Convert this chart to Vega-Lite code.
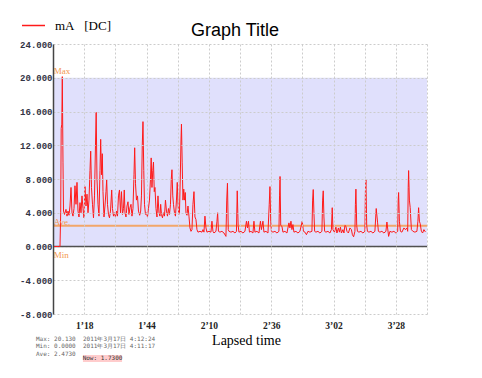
{
"$schema":"https://vega.github.io/schema/vega-lite/v6.json",
"width":374,"height":270,
"autosize":"none",
"padding":{"left":53,"top":44,"right":55,"bottom":64},
"background":"white",
"view":{"stroke":null},
"config":{"axis":{"labelOverlap":false,"labelFlush":false}},
"title":{"text":"Graph Title","font":"Liberation Sans","fontSize":18,"fontWeight":"normal","color":"#000","offset":-27,"dx":-5,"anchor":"middle"},
"layer":[
{"data":{"values":[{}]},"mark":{"type":"rect","color":"#e0e0fc"},"encoding":{
"x":{"datum":65,"type":"quantitative","scale":{"domain":[65,221],"nice":false,"zero":false},
 "axis":{"values":[65,78,91,104,117,130,143,156,169,182,195,208,221],"tickCount":50,"grid":true,"gridDash":[2,2],"gridColor":"#cccccc","domain":false,"ticks":false,"labelOverlap":false,"labelFlush":false,
 "labelExpr":"datum.value==78 ? '1\u201918' : datum.value==104 ? '1\u201944' : datum.value==130 ? '2\u201910' : datum.value==156 ? '2\u201936' : datum.value==182 ? '3\u201902' : datum.value==208 ? '3\u201928' : ''",
 "labelFont":"Liberation Serif","labelFontSize":9.5,"labelFontWeight":"bold","labelColor":"#222","labelPadding":6,
 "title":"Lapsed time","titleFont":"Liberation Serif","titleFontSize":14,"titleFontWeight":"normal","titleColor":"#000","titlePadding":4,"titleX":193,"zindex":1}},
"x2":{"datum":221},
"y":{"datum":0,"type":"quantitative","scale":{"domain":[-8,24],"nice":false,"zero":false},
 "axis":{"values":[-8,-4,0,4,8,12,16,20,24],"tickCount":50,"grid":true,"gridDash":[2,2],"gridColor":"#cccccc","domain":true,"domainColor":"#444","domainWidth":1.5,"ticks":false,"labelOverlap":false,
 "labelExpr":"(datum.value<0?'-':'')+format(abs(datum.value),'.3f')",
 "labelFont":"Liberation Mono","labelFontSize":9,"labelFontWeight":"bold","labelColor":"#333344","labelPadding":1,"title":null,"zindex":1}},
"y2":{"datum":20}}},
{"data":{"values":[{}]},"mark":{"type":"rule","color":"#f2a66a","strokeWidth":2},"encoding":{"x":{"datum":65,"type":"quantitative"},"x2":{"datum":221},"y":{"datum":2.473,"type":"quantitative"}}},
{"data":{"values":[{}]},"mark":{"type":"rule","color":"#505050","strokeWidth":1.5},"encoding":{"x":{"datum":65,"type":"quantitative"},"x2":{"datum":221},"y":{"datum":0,"type":"quantitative"}}},
{"data":{"values":[
{"t":65.00,"mA":0.0},{"t":66.25,"mA":0.0},{"t":67.29,"mA":0.0},{"t":67.92,"mA":0.0},{"t":68.21,"mA":4.0},{"t":68.42,"mA":14.0},{"t":68.67,"mA":14.5},{"t":68.88,"mA":20.13},{"t":69.17,"mA":10.0},{"t":69.38,"mA":4.2},
{"t":69.80,"mA":3.8},{"t":70.42,"mA":4.4},{"t":70.84,"mA":3.6},{"t":71.26,"mA":4.2},{"t":71.67,"mA":3.7},{"t":72.09,"mA":4.8},{"t":72.51,"mA":7.0},{"t":72.92,"mA":4.0},{"t":73.34,"mA":3.6},{"t":73.76,"mA":4.5},
{"t":74.17,"mA":7.2},{"t":74.59,"mA":5.0},{"t":75.01,"mA":7.6},{"t":75.43,"mA":4.2},{"t":75.84,"mA":3.5},{"t":76.26,"mA":5.2},{"t":76.68,"mA":4.0},{"t":77.09,"mA":6.0},{"t":77.51,"mA":4.5},{"t":77.93,"mA":3.4},
{"t":78.34,"mA":7.1},{"t":78.76,"mA":4.8},{"t":79.18,"mA":6.2},{"t":79.60,"mA":4.0},{"t":80.01,"mA":5.5},{"t":80.43,"mA":9.0},{"t":80.72,"mA":11.3},{"t":81.05,"mA":7.0},{"t":81.47,"mA":5.0},{"t":81.89,"mA":3.4},
{"t":82.31,"mA":6.0},{"t":82.72,"mA":12.0},{"t":83.01,"mA":15.9},{"t":83.35,"mA":8.0},{"t":83.77,"mA":5.0},{"t":84.18,"mA":3.6},{"t":84.60,"mA":9.0},{"t":84.89,"mA":12.7},{"t":85.22,"mA":8.5},{"t":85.56,"mA":11.0},
{"t":85.85,"mA":6.5},{"t":86.27,"mA":3.5},{"t":86.68,"mA":4.8},{"t":87.10,"mA":6.5},{"t":87.39,"mA":7.9},{"t":87.73,"mA":5.0},{"t":88.14,"mA":3.8},{"t":88.56,"mA":3.4},{"t":88.98,"mA":4.2},{"t":89.48,"mA":6.7},
{"t":89.81,"mA":4.5},{"t":90.23,"mA":3.6},{"t":90.65,"mA":4.0},{"t":91.06,"mA":3.5},{"t":91.48,"mA":4.2},{"t":91.90,"mA":3.6},{"t":92.31,"mA":6.0},{"t":92.73,"mA":6.7},{"t":93.15,"mA":4.0},{"t":93.56,"mA":6.5},
{"t":93.98,"mA":3.8},{"t":94.40,"mA":4.5},{"t":94.73,"mA":6.7},{"t":95.02,"mA":4.0},{"t":95.44,"mA":3.5},{"t":95.86,"mA":4.8},{"t":96.28,"mA":5.3},{"t":96.69,"mA":3.8},{"t":97.11,"mA":4.6},{"t":97.53,"mA":5.0},
{"t":97.94,"mA":3.6},{"t":98.36,"mA":4.5},{"t":98.78,"mA":8.5},{"t":99.07,"mA":11.7},{"t":99.40,"mA":7.5},{"t":99.82,"mA":5.5},{"t":100.24,"mA":6.0},{"t":100.65,"mA":4.2},{"t":101.15,"mA":3.7},{"t":101.57,"mA":4.2},
{"t":101.90,"mA":6.0},{"t":102.24,"mA":12.0},{"t":102.53,"mA":14.8},{"t":102.86,"mA":9.0},{"t":103.16,"mA":5.0},{"t":103.57,"mA":3.8},{"t":103.99,"mA":4.0},{"t":104.41,"mA":3.5},{"t":104.82,"mA":4.5},{"t":105.24,"mA":5.5},
{"t":105.66,"mA":8.0},{"t":105.95,"mA":10.5},{"t":106.28,"mA":7.0},{"t":106.62,"mA":9.0},{"t":106.91,"mA":10.0},{"t":107.24,"mA":6.5},{"t":107.53,"mA":7.0},{"t":107.95,"mA":4.5},{"t":108.37,"mA":3.5},{"t":108.79,"mA":6.0},
{"t":109.20,"mA":4.0},{"t":109.62,"mA":3.6},{"t":109.91,"mA":5.0},{"t":110.24,"mA":3.8},{"t":110.66,"mA":3.4},{"t":111.08,"mA":4.0},{"t":111.50,"mA":3.6},{"t":111.91,"mA":5.5},{"t":112.33,"mA":4.2},{"t":112.75,"mA":3.6},
{"t":113.16,"mA":4.5},{"t":113.58,"mA":3.8},{"t":114.00,"mA":5.0},{"t":114.33,"mA":8.0},{"t":114.62,"mA":9.1},{"t":114.96,"mA":6.0},{"t":115.25,"mA":5.0},{"t":115.67,"mA":4.0},{"t":116.08,"mA":3.6},{"t":116.50,"mA":5.5},
{"t":116.83,"mA":7.6},{"t":117.13,"mA":5.0},{"t":117.46,"mA":3.8},{"t":117.75,"mA":4.0},{"t":118.08,"mA":8.0},{"t":118.38,"mA":12.5},{"t":118.58,"mA":14.5},{"t":118.88,"mA":10.0},{"t":119.21,"mA":5.5},{"t":119.54,"mA":6.8},
{"t":119.84,"mA":5.5},{"t":120.17,"mA":6.4},{"t":120.46,"mA":4.0},{"t":120.88,"mA":3.7},{"t":121.30,"mA":4.8},{"t":121.71,"mA":3.6},{"t":122.13,"mA":2.2},{"t":122.55,"mA":1.8},{"t":122.96,"mA":2.0},{"t":123.38,"mA":5.0},
{"t":123.80,"mA":6.5},{"t":124.21,"mA":3.5},{"t":124.63,"mA":3.2},{"t":125.05,"mA":2.0},{"t":125.47,"mA":1.7},{"t":126.30,"mA":1.8},{"t":127.13,"mA":1.7},{"t":127.55,"mA":2.0},{"t":127.97,"mA":1.7},{"t":128.38,"mA":3.6},
{"t":128.80,"mA":2.2},{"t":129.22,"mA":1.7},{"t":130.05,"mA":1.8},{"t":130.89,"mA":1.7},{"t":131.30,"mA":3.0},{"t":131.72,"mA":1.8},{"t":132.14,"mA":1.6},{"t":132.97,"mA":1.8},{"t":133.39,"mA":3.0},{"t":133.68,"mA":4.0},
{"t":134.01,"mA":1.8},{"t":134.64,"mA":1.7},{"t":135.47,"mA":1.8},{"t":136.31,"mA":1.6},{"t":137.14,"mA":1.2},{"t":137.47,"mA":5.5},{"t":137.77,"mA":7.5},{"t":138.10,"mA":2.0},{"t":138.39,"mA":1.8},{"t":139.23,"mA":1.7},
{"t":140.06,"mA":1.8},{"t":140.89,"mA":1.6},{"t":141.52,"mA":1.8},{"t":141.85,"mA":6.6},{"t":142.23,"mA":2.5},{"t":142.56,"mA":1.7},{"t":143.40,"mA":1.8},{"t":144.23,"mA":1.6},{"t":145.06,"mA":1.8},{"t":145.69,"mA":3.0},
{"t":146.11,"mA":2.2},{"t":146.52,"mA":3.0},{"t":146.94,"mA":1.7},{"t":147.57,"mA":1.8},{"t":148.40,"mA":1.6},{"t":148.82,"mA":3.0},{"t":149.23,"mA":1.7},{"t":150.07,"mA":1.8},{"t":150.90,"mA":1.6},{"t":151.53,"mA":3.0},
{"t":151.94,"mA":2.0},{"t":152.57,"mA":3.0},{"t":152.99,"mA":1.7},{"t":153.82,"mA":1.8},{"t":154.66,"mA":1.6},{"t":155.20,"mA":5.0},{"t":155.49,"mA":7.1},{"t":155.82,"mA":3.0},{"t":156.11,"mA":1.8},{"t":156.74,"mA":1.7},
{"t":157.57,"mA":1.8},{"t":158.41,"mA":1.6},{"t":159.24,"mA":1.8},{"t":159.49,"mA":6.0},{"t":159.70,"mA":8.3},{"t":159.99,"mA":2.5},{"t":160.49,"mA":2.4},{"t":160.91,"mA":1.7},{"t":161.74,"mA":1.8},{"t":162.58,"mA":1.6},
{"t":163.41,"mA":2.8},{"t":163.83,"mA":2.2},{"t":164.25,"mA":3.0},{"t":164.66,"mA":2.0},{"t":165.08,"mA":2.6},{"t":165.50,"mA":1.7},{"t":166.33,"mA":1.8},{"t":167.17,"mA":1.6},{"t":168.00,"mA":1.8},{"t":168.96,"mA":3.0},
{"t":169.46,"mA":1.8},{"t":170.08,"mA":1.7},{"t":170.71,"mA":1.4},{"t":171.34,"mA":1.8},{"t":172.17,"mA":1.7},{"t":173.00,"mA":1.8},{"t":173.29,"mA":5.5},{"t":173.55,"mA":6.75},{"t":173.84,"mA":4.0},{"t":174.13,"mA":1.8},
{"t":174.67,"mA":1.7},{"t":175.51,"mA":1.8},{"t":176.34,"mA":1.6},{"t":177.17,"mA":1.8},{"t":177.46,"mA":5.5},{"t":177.72,"mA":6.6},{"t":178.01,"mA":3.5},{"t":178.30,"mA":1.8},{"t":178.84,"mA":1.7},{"t":179.68,"mA":1.8},
{"t":180.51,"mA":1.6},{"t":181.13,"mA":2.0},{"t":181.47,"mA":4.6},{"t":181.76,"mA":2.0},{"t":182.39,"mA":1.7},{"t":183.01,"mA":2.3},{"t":183.43,"mA":1.6},{"t":184.05,"mA":2.2},{"t":184.47,"mA":1.7},{"t":184.89,"mA":2.3},
{"t":185.30,"mA":1.6},{"t":185.93,"mA":2.0},{"t":186.35,"mA":1.6},{"t":186.76,"mA":2.5},{"t":187.18,"mA":2.4},{"t":187.60,"mA":1.8},{"t":188.22,"mA":1.6},{"t":188.85,"mA":2.2},{"t":189.47,"mA":2.0},{"t":189.89,"mA":1.4},
{"t":190.39,"mA":1.15},{"t":190.93,"mA":1.8},{"t":191.14,"mA":5.0},{"t":191.35,"mA":6.8},{"t":191.68,"mA":2.5},{"t":191.98,"mA":1.8},{"t":192.60,"mA":1.7},{"t":193.44,"mA":1.8},{"t":194.27,"mA":1.6},{"t":195.10,"mA":1.8},
{"t":195.31,"mA":6.5},{"t":195.52,"mA":7.9},{"t":195.85,"mA":2.5},{"t":196.15,"mA":1.8},{"t":196.77,"mA":1.7},{"t":197.61,"mA":1.8},{"t":198.44,"mA":1.6},{"t":199.27,"mA":1.8},{"t":199.82,"mA":4.5},{"t":200.40,"mA":2.8},
{"t":200.73,"mA":1.8},{"t":201.36,"mA":1.7},{"t":202.19,"mA":1.8},{"t":203.03,"mA":1.6},{"t":203.86,"mA":1.8},{"t":204.28,"mA":2.9},{"t":204.99,"mA":1.2},{"t":205.53,"mA":1.8},{"t":206.36,"mA":1.7},{"t":207.20,"mA":1.8},
{"t":208.03,"mA":1.6},{"t":208.78,"mA":1.8},{"t":208.99,"mA":5.5},{"t":209.16,"mA":6.4},{"t":209.49,"mA":3.0},{"t":209.91,"mA":1.8},{"t":210.53,"mA":1.7},{"t":211.37,"mA":2.2},{"t":211.99,"mA":2.0},{"t":212.62,"mA":2.2},
{"t":212.95,"mA":1.8},{"t":213.16,"mA":7.0},{"t":213.33,"mA":9.0},{"t":213.66,"mA":5.5},{"t":213.99,"mA":4.6},{"t":214.49,"mA":2.0},{"t":215.12,"mA":1.8},{"t":215.95,"mA":1.7},{"t":216.79,"mA":1.8},{"t":217.21,"mA":3.0},
{"t":217.50,"mA":4.6},{"t":217.83,"mA":3.0},{"t":218.16,"mA":2.7},{"t":218.66,"mA":1.8},{"t":219.16,"mA":1.6},{"t":219.71,"mA":2.0},{"t":220.33,"mA":1.73}
]},
"mark":{"type":"line","strokeWidth":1,"clip":true},
"encoding":{
"x":{"field":"t","type":"quantitative"},
"y":{"field":"mA","type":"quantitative"},
"color":{"datum":"mA\u00a0\u00a0\u00a0[DC]","type":"nominal","scale":{"range":["#ff1a1a"]},
 "legend":{"orient":"none","legendX":-32,"legendY":-31,"title":null,"symbolType":"stroke","symbolSize":529,"symbolStrokeWidth":1.5,"labelFont":"Liberation Serif","labelFontSize":13,"labelColor":"#000","labelOffset":9}}
}},
{"data":{"values":[{}]},"mark":{"type":"text","text":"Max","align":"left","baseline":"middle","font":"Liberation Serif","fontSize":9,"color":"#f39a50"},"encoding":{"x":{"datum":65.3,"type":"quantitative"},"y":{"datum":20.8,"type":"quantitative"}}},
{"data":{"values":[{}]},"mark":{"type":"text","text":"Ave.","align":"left","baseline":"middle","font":"Liberation Serif","fontSize":9,"color":"#f39a50"},"encoding":{"x":{"datum":65.3,"type":"quantitative"},"y":{"datum":2.94,"type":"quantitative"}}},
{"data":{"values":[{}]},"mark":{"type":"text","text":"Min","align":"left","baseline":"middle","font":"Liberation Serif","fontSize":9,"color":"#f39a50"},"encoding":{"x":{"datum":65.3,"type":"quantitative"},"y":{"datum":-1.0,"type":"quantitative"}}},
{"data":{"values":[{}]},"mark":{"type":"text","text":["Max: 20.130\u00a0\u00a02011年3月17日\u00a04:12:24","Min: 0.0000\u00a0\u00a02011年3月17日\u00a04:11:17","Ave: 2.4730"],"lineHeight":7.3,"align":"left","baseline":"middle","font":"DejaVu Sans Mono","fontSize":6,"color":"#666"},"encoding":{"x":{"datum":57.9,"type":"quantitative"},"y":{"datum":-10.96,"type":"quantitative"}}},
{"data":{"values":[{}]},"mark":{"type":"rect","color":"#ffcccc"},"encoding":{"x":{"datum":77.5,"type":"quantitative"},"x2":{"datum":93.8},"y":{"datum":-12.86,"type":"quantitative"},"y2":{"datum":-13.69}}},
{"data":{"values":[{}]},"mark":{"type":"text","text":"Now: 1.7300","align":"center","baseline":"middle","font":"DejaVu Sans Mono","fontSize":6,"color":"#333"},"encoding":{"x":{"datum":85.65,"type":"quantitative"},"y":{"datum":-13.27,"type":"quantitative"}}}
]
}
